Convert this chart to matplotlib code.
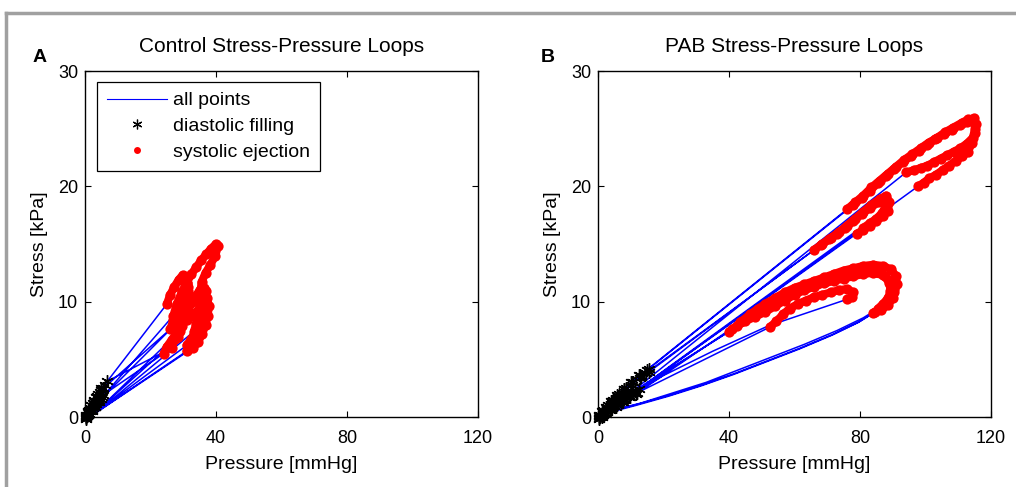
import matplotlib
matplotlib.use('Agg')
import matplotlib.pyplot as plt
from matplotlib.lines import Line2D

plt.rcParams['font.family'] = ['Liberation Sans', 'DejaVu Sans']

# ---- Control data: one list per cardiac cycle ----
# diastolic filling (black asterisks)
ctrl_dia_p = [
    [0.3, 0.8, 1.5, 2.4, 3.5, 4.8, 6.0],
    [0.2, 0.7, 1.3, 2.1, 3.0, 4.0, 5.2],
    [0.4, 1.0, 1.8, 2.7, 3.6, 4.5, 5.6],
    [0.3, 0.9, 1.6, 2.5, 3.4, 4.4, 5.5],
    [0.5, 1.1, 1.9, 2.8, 3.9, 5.0, 6.8],
    [0.2, 0.6, 1.2, 2.0, 3.1, 4.2, 5.0],
]
ctrl_dia_s = [
    [0.1, 0.4, 0.8, 1.2, 1.7, 2.3, 2.8],
    [-0.1, 0.1, 0.3, 0.6, 0.9, 1.3, 1.7],
    [0.2, 0.5, 1.0, 1.4, 1.8, 2.2, 2.5],
    [0.0, 0.2, 0.5, 0.8, 1.1, 1.5, 1.9],
    [0.2, 0.6, 1.0, 1.5, 2.0, 2.5, 3.1],
    [-0.2, 0.1, 0.3, 0.5, 0.9, 1.3, 1.6],
]
# systolic ejection (red dots)
ctrl_sys_p = [
    [25.0, 26.0, 27.3, 28.6, 29.8, 30.8, 31.4, 31.3, 30.9, 30.3, 29.6, 29.0, 28.5],
    [27.0, 28.0, 29.5, 31.0, 32.5, 34.0, 35.5, 37.0, 38.5, 40.0, 40.6, 39.8, 38.3,
     36.8, 35.6, 35.2, 35.0, 34.6, 34.0, 33.2],
    [26.0, 27.0, 28.5, 30.0, 31.5, 33.0, 34.5, 36.0, 37.3, 37.8, 37.5, 36.8, 35.8, 34.5, 33.0],
    [24.0, 25.0, 26.5, 28.0, 29.5, 31.0, 32.5, 34.0, 35.3, 36.2, 36.0, 35.2, 34.0, 32.5, 31.0],
    [26.5, 27.5, 28.8, 30.0, 31.3, 32.5, 33.8, 35.0, 36.2, 37.0, 37.0, 36.3, 35.3, 34.0, 32.5, 31.0],
    [27.5, 28.2, 29.0, 29.8, 30.6, 31.2, 31.4, 31.0, 30.4, 29.6, 28.8],
]
ctrl_sys_s = [
    [9.8, 10.6, 11.3, 11.9, 12.3, 12.0, 11.3, 10.5, 9.7, 8.9, 8.2, 7.5, 6.9],
    [8.8, 9.8, 10.8, 11.6, 12.4, 13.0, 13.6, 14.1, 14.6, 15.0, 14.8, 14.0, 13.2,
     12.5, 11.7, 10.8, 9.9, 9.0, 8.1, 7.4],
    [7.6, 8.4, 9.1, 9.6, 10.0, 10.2, 10.4, 10.5, 10.3, 9.6, 8.8, 8.0, 7.2, 6.5, 6.0],
    [5.5, 6.1, 6.7, 7.3, 7.9, 8.4, 8.8, 9.1, 9.2, 8.7, 8.0, 7.3, 6.7, 6.1, 5.7],
    [6.0, 6.8, 7.6, 8.4, 9.2, 9.9, 10.5, 11.0, 11.2, 10.9, 10.0, 9.2, 8.4, 7.6, 6.8, 6.2],
    [8.0, 8.9, 9.8, 10.6, 11.3, 11.6, 10.9, 10.0, 9.1, 8.2, 7.4],
]
# relaxation back toward the origin
ctrl_rel_p = [[4.0], [3.5], [3.0], [4.5], [3.8], [3.2]]
ctrl_rel_s = [[0.6], [0.4], [0.3], [0.6], [0.5], [0.4]]

# ---- PAB data ----
pab_dia_p = [
    [0.5, 1.5, 2.8, 4.3, 6.0, 8.0, 10.2, 12.5],
    [0.3, 1.2, 2.5, 4.0, 5.8, 7.8, 10.0, 12.5, 15.0],
    [0.6, 1.6, 3.0, 4.6, 6.4, 8.4, 10.6, 13.0, 15.5],
    [0.4, 1.3, 2.6, 4.1, 5.8, 7.7, 9.8, 12.0],
    [0.5, 1.4, 2.7, 4.2, 6.0, 8.0, 10.3, 12.8, 15.6],
    [0.3, 1.1, 2.3, 3.8, 5.5, 7.4, 9.5, 11.6],
    [0.4, 1.4, 2.8, 4.4, 6.2, 8.2, 10.4, 12.8, 14.6],
    [0.6, 1.5, 2.7, 4.1, 5.7, 7.5, 9.4, 11.3],
]
pab_dia_s = [
    [0.1, 0.3, 0.6, 0.9, 1.2, 1.6, 2.0, 2.4],
    [0.2, 0.5, 0.9, 1.4, 1.9, 2.4, 3.0, 3.6, 4.1],
    [0.2, 0.6, 1.0, 1.5, 2.0, 2.5, 3.0, 3.5, 3.9],
    [-0.1, 0.1, 0.4, 0.7, 1.0, 1.3, 1.7, 2.1],
    [0.1, 0.5, 0.9, 1.4, 1.8, 2.4, 3.0, 3.6, 4.2],
    [-0.2, 0.0, 0.3, 0.6, 0.9, 1.3, 1.7, 2.0],
    [0.1, 0.4, 0.8, 1.2, 1.7, 2.2, 2.8, 3.4, 3.8],
    [0.0, 0.2, 0.5, 0.8, 1.1, 1.5, 1.9, 2.3],
]
pab_sys_p = [
    [41.0, 43.5, 46.0, 48.5, 51.0, 54.0, 57.0, 60.0, 63.0, 66.0, 69.0, 72.0, 75.0, 78.0,
     81.0, 84.0, 87.0, 89.5, 91.0, 91.2, 90.5, 89.0, 87.0, 84.5],
    [76.0, 78.5, 81.0, 83.5, 86.0, 88.5, 91.0, 93.5, 96.0, 98.5, 101.0, 103.5, 106.0, 108.5,
     111.0, 113.0, 114.8, 115.4, 115.0, 114.2, 113.0, 111.2, 109.2, 107.2, 105.2, 103.2,
     101.2, 99.4, 97.7],
    [66.0, 68.5, 71.0, 73.5, 76.0, 78.5, 81.0, 83.5, 86.0, 88.0, 89.0, 88.5, 87.0, 85.0,
     83.0, 81.0, 79.0],
    [52.5, 54.5, 56.5, 58.5, 61.0, 63.5, 66.0, 68.5, 71.0, 73.5, 76.0, 78.0, 77.5, 76.0],
    [78.0, 80.5, 83.0, 85.5, 88.0, 90.5, 93.0, 95.5, 98.0, 100.5, 103.0, 105.5, 108.0, 110.5,
     112.8, 114.5, 115.2, 114.4, 112.6, 110.6, 108.6, 106.6, 104.6, 102.6, 100.6, 98.6,
     96.4, 94.0],
    [44.0, 46.5, 49.0, 52.0, 55.0, 58.0, 61.0, 64.0, 67.0, 70.0, 73.0, 76.0, 79.0, 82.0,
     85.0, 87.5, 89.0, 89.3, 88.5, 87.0, 85.5],
    [68.0, 70.5, 73.0, 75.5, 78.0, 80.5, 83.0, 85.5, 87.3, 87.8, 86.8, 85.0, 83.0, 81.0],
    [40.0, 42.5, 45.0, 48.0, 51.0, 54.0, 57.0, 60.0, 63.0, 66.0, 69.0, 72.0, 75.0, 78.0,
     81.0, 84.0, 87.0, 89.5, 90.5, 90.0, 88.5, 86.5, 84.0],
]
pab_sys_s = [
    [7.6, 8.2, 8.8, 9.3, 9.8, 10.3, 10.8, 11.2, 11.5, 11.8, 12.1, 12.4, 12.7, 12.9,
     13.1, 13.2, 13.1, 12.8, 12.2, 11.5, 10.8, 10.2, 9.6, 9.1],
    [18.0, 18.6, 19.2, 19.9, 20.5, 21.1, 21.7, 22.3, 22.8, 23.3, 23.8, 24.2, 24.7, 25.1,
     25.5, 25.8, 25.9, 25.4, 24.6, 23.8, 23.0, 22.6, 22.2, 21.8, 21.4, 21.0,
     20.7, 20.3, 20.0],
    [14.5, 15.0, 15.5, 16.0, 16.6, 17.2, 17.8, 18.4, 18.9, 19.2, 18.6, 17.9, 17.4, 17.0,
     16.6, 16.2, 15.9],
    [7.8, 8.3, 8.9, 9.4, 9.8, 10.1, 10.4, 10.6, 10.8, 11.0, 11.1, 10.8, 10.4, 10.2],
    [18.4, 19.0, 19.6, 20.3, 20.9, 21.5, 22.1, 22.6, 23.1, 23.6, 24.1, 24.5, 24.9, 25.3,
     25.6, 25.7, 25.0, 24.2, 23.7, 23.3, 23.0, 22.7, 22.4, 22.1, 21.8, 21.6,
     21.4, 21.2],
    [8.3, 8.9, 9.4, 9.9, 10.4, 10.8, 11.1, 11.3, 11.5, 11.8, 12.1, 12.4, 12.6, 12.7,
     12.6, 12.2, 11.6, 10.9, 10.3, 9.8, 9.4],
    [14.9, 15.4, 15.9, 16.4, 17.0, 17.6, 18.1, 18.6, 18.9, 18.3, 17.7, 17.2, 16.8, 16.4],
    [7.4, 7.9, 8.3, 8.7, 9.1, 9.6, 10.1, 10.6, 11.0, 11.3, 11.6, 11.8, 12.0, 12.2,
     12.4, 12.5, 12.3, 11.8, 11.1, 10.3, 9.7, 9.3, 9.0],
]
pab_rel_p = [
    [80.0, 72.0, 62.0, 52.0, 42.0, 32.0, 22.0, 12.0, 4.0],
    [3.0],
    [3.5],
    [52.0, 35.0, 20.0, 8.0, 2.5],
    [2.5],
    [81.0, 73.0, 63.0, 53.0, 43.0, 33.0, 23.0, 13.0, 4.5],
    [3.0],
    [79.5, 71.5, 61.5, 51.5, 41.5, 31.5, 21.5, 11.5, 3.5],
]
pab_rel_s = [
    [8.3, 7.2, 6.0, 4.9, 3.8, 2.8, 1.9, 1.1, 0.5],
    [0.5],
    [0.6],
    [7.9, 5.7, 3.6, 1.6, 0.5],
    [0.4],
    [8.6, 7.5, 6.3, 5.2, 4.1, 3.0, 2.1, 1.2, 0.6],
    [0.5],
    [8.2, 7.1, 5.9, 4.8, 3.7, 2.7, 1.8, 1.0, 0.4],
]

STAR = (6, 2, 0)
BLUE = '#0000ff'
RED = '#ff0000'


def draw_panel(ax, dia_p, dia_s, sys_p, sys_s, rel_p, rel_s, title):
    # blue line through every point, cycle after cycle
    path_p, path_s = [], []
    for i in range(len(dia_p)):
        path_p += dia_p[i] + sys_p[i] + rel_p[i]
        path_s += dia_s[i] + sys_s[i] + rel_s[i]
    ax.plot(path_p, path_s, color=BLUE, lw=1.1, zorder=2)

    for i in range(len(dia_p)):
        ax.plot(dia_p[i], dia_s[i], ls='none', marker=STAR, color='k',
                ms=9, mew=1.0, zorder=3, clip_on=False)
    # ejection samples are dense in the original, so the dots merge into a band
    for i in range(len(sys_p)):
        ax.plot(sys_p[i], sys_s[i], color=RED, lw=5.8, solid_capstyle='round',
                solid_joinstyle='round', zorder=4)
        ax.plot(sys_p[i], sys_s[i], ls='none', marker='o', color=RED,
                ms=7.4, mew=0, zorder=4)

    ax.set_xlim(0, 120)
    ax.set_ylim(0, 30)
    ax.set_xticks([0, 40, 80, 120])
    ax.set_yticks([0, 10, 20, 30])
    ax.tick_params(axis='x', pad=9.5)
    ax.tick_params(axis='y', pad=5)
    ax.tick_params(direction='in', top=True, right=True, length=4, labelsize=13)
    for sp in ax.spines.values():
        sp.set_linewidth(1)
        sp.set_zorder(5)
    ax.set_xlabel('Pressure [mmHg]', fontsize=14, labelpad=6)
    ax.set_ylabel('Stress [kPa]', fontsize=14, labelpad=7.5)
    ax.set_title(title, fontsize=15, pad=14)


fig = plt.figure(figsize=(10.16, 4.87), dpi=100)

axA = fig.add_axes([85 / 1016, 70 / 487, 393 / 1016, 346 / 487])
axB = fig.add_axes([598 / 1016, 70 / 487, 393 / 1016, 346 / 487])

draw_panel(axA, ctrl_dia_p, ctrl_dia_s, ctrl_sys_p, ctrl_sys_s, ctrl_rel_p, ctrl_rel_s,
           'Control Stress-Pressure Loops')
draw_panel(axB, pab_dia_p, pab_dia_s, pab_sys_p, pab_sys_s, pab_rel_p, pab_rel_s,
           'PAB Stress-Pressure Loops')

handles = [
    Line2D([], [], color=BLUE, lw=0.8),
    Line2D([], [], ls='none', marker=STAR, color='k', ms=7, mew=0.9),
    Line2D([], [], ls='none', marker='o', color=RED, ms=5, mew=0),
]
leg = axA.legend(handles, ['all points', 'diastolic filling', 'systolic ejection'],
                 loc='upper left', bbox_to_anchor=(12 / 393, 1 - 11 / 346),
                 borderaxespad=0, fontsize=14,
                 frameon=True, fancybox=False, edgecolor='k', framealpha=1,
                 handlelength=3.1, borderpad=0.5, labelspacing=0.42, handletextpad=0.3)
leg.get_frame().set_linewidth(0.9)
leg.set_zorder(6)

fig.text(40 / 1016, 1 - 58 / 487, 'A', fontsize=14, fontweight='bold',
         ha='center', va='center')
fig.text(548 / 1016, 1 - 58 / 487, 'B', fontsize=14, fontweight='bold',
         ha='center', va='center')

# grey frame on top and left edge
fig.add_artist(Line2D([6 / 1016, 1], [1 - 13 / 487, 1 - 13 / 487],
                      color='#a0a0a0', lw=2.5, transform=fig.transFigure))
fig.add_artist(Line2D([6 / 1016, 6 / 1016], [0, 1 - 13 / 487],
                      color='#a0a0a0', lw=2.5, transform=fig.transFigure))

fig.savefig('out.png', dpi=100)
